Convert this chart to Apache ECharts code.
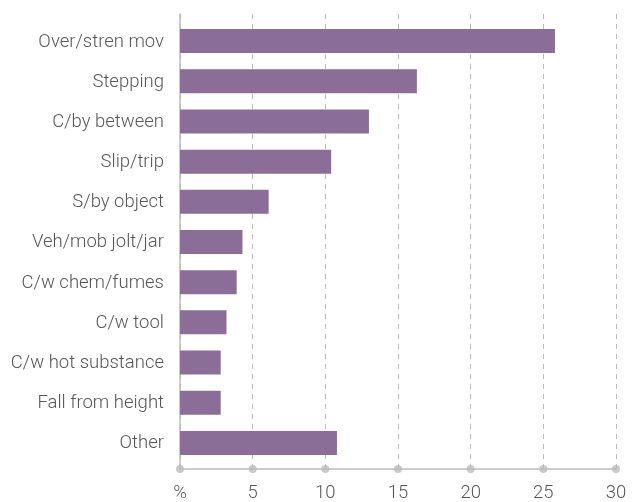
<!DOCTYPE html>
<html>
<head>
<meta charset="utf-8">
<script src="https://cdn.jsdelivr.net/npm/echarts@6/dist/echarts.min.js"></script>
<style>
html,body{margin:0;padding:0;background:#fff;}
#chart{width:641px;height:502px;}
</style>
</head>
<body>
<div id="chart"></div>
<script>
const categories = ['Over/stren mov','Stepping','C/by between','Slip/trip','S/by object','Veh/mob jolt/jar','C/w chem/fumes','C/w tool','C/w hot substance','Fall from height','Other'];
const values = [25.8, 16.3, 13.0, 10.4, 6.1, 4.3, 3.9, 3.2, 2.8, 2.8, 10.8];
const xTicks = [0, 5, 10, 15, 20, 25, 30];

const chart = echarts.init(document.getElementById('chart'), null, {renderer: 'canvas'});
const fontFamily = '"Roboto Light", Roboto, sans-serif';
const gray = '#bbbbbb';
chart.setOption({
  animation: false,
  grid: [
    {left: 180, right: 25, top: 21, bottom: 39},
    {left: 180, right: 25, top: 14, bottom: 33}
  ],
  xAxis: [
    {gridIndex: 0, type: 'value', min: 0, max: 30, interval: 5, show: false},
    {gridIndex: 1, type: 'value', min: 0, max: 30, interval: 5,
     axisLine: {show: true, lineStyle: {color: gray, width: 1.5}},
     axisTick: {show: false},
     splitLine: {show: true, lineStyle: {color: gray, type: [5, 5], width: 1}},
     axisLabel: {color: '#555', fontFamily: fontFamily, fontWeight: 300, fontSize: 18.5, margin: 14,
       formatter: v => v === 0 ? '%' : String(v)}}
  ],
  yAxis: [
    {gridIndex: 0, type: 'category', data: categories, inverse: true,
     axisLine: {show: false}, axisTick: {show: false}, splitLine: {show: false},
     axisLabel: {color: '#555', fontFamily: fontFamily, fontWeight: 300, fontSize: 18.5, margin: 16}},
    {gridIndex: 1, type: 'value', min: 0, max: 1,
     axisLine: {show: true, lineStyle: {color: gray, width: 1.5}},
     axisTick: {show: false}, axisLabel: {show: false}, splitLine: {show: false}}
  ],
  series: [
    {type: 'scatter', xAxisIndex: 1, yAxisIndex: 1, data: xTicks.map(t => [t, 0]),
     symbol: 'circle', symbolSize: 8, itemStyle: {color: gray}, clip: false, silent: true, z: 3},
    {type: 'bar', xAxisIndex: 0, yAxisIndex: 0, data: values, barWidth: 24,
     itemStyle: {color: '#8b6e98'}, z: 2}
  ]
});
</script>
</body>
</html>
